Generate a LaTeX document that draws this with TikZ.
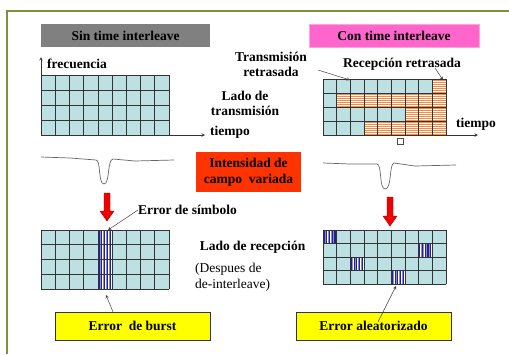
\documentclass[tikz,border=0pt]{standalone}
\usepackage{fontspec}
\setmainfont{Liberation Serif}
\usetikzlibrary{positioning}

\definecolor{marco}{HTML}{77933C}
\definecolor{celda}{HTML}{BDE1E3}
\definecolor{naranja}{HTML}{F98A3E}
\definecolor{azul}{HTML}{22228A}
\definecolor{lila}{HTML}{8C8CD8}
\definecolor{rosa}{HTML}{FF66CC}
\definecolor{rojo}{HTML}{FF3300}
\definecolor{amarillo}{HTML}{FFFF00}

\tikzset{
  txt/.style={font=\fontsize{13.5}{15.5}\selectfont\bfseries, align=center, inner sep=0pt},
  normal/.style={font=\fontsize{13.5}{16}\selectfont, align=left, inner sep=0pt},
  caja/.style={txt, minimum height=23pt},
  flecha/.style={->, >=stealth, black!75, line width=0.5pt},
  eje/.style={->, >=stealth, black!80, line width=0.6pt},
  linea/.style={black!80, line width=0.7pt},
  senal/.style={black!60, line width=0.7pt},
  bajada/.style={fill=red!95!black, draw=red!60!black, line width=0.4pt},
}

% cuadricula de 9x4 celdas
\newcommand{\lineas}{%
  \foreach \i in {0,...,9} {\draw[linea] (\i,0) -- (\i,4);}
  \foreach \j in {0,...,4} {\draw[linea] (0,\j) -- (9,\j);}
}
\newcommand{\rayado}[2]{%
  \fill[white] (#1,#2) rectangle ++(1,1);
  \foreach \k in {0.08,0.28,0.48,0.68,0.88} {\draw[azul, line width=1.1pt] (#1+\k,#2) -- ++(0,1);}
  \foreach \k in {0.18,0.38,0.58,0.78} {\draw[lila, line width=0.8pt] (#1+\k,#2) -- ++(0,1);}
}

\begin{document}
\begin{tikzpicture}[x=1pt,y=-1pt]
  \useasboundingbox (0,0) rectangle (509,354);
  \draw[marco, line width=2pt] (7,354) -- (7,11) -- (509,11);

  % titulos
  \node[caja, fill=black!50, minimum width=169pt] (sin) at (125.5,35.5) {Sin time interleave};
  \node[caja, fill=rosa, draw=rosa!60, minimum width=170pt] (con) at (394,35.5) {Con time interleave};

  % lado de transmision, sin interleave
  \begin{scope}[shift={(41,75)}, x=14.22pt, y=-15pt]
    \fill[celda] (0,0) rectangle (9,4);
    \lineas
  \end{scope}
  \coordinate (o1) at (41,135);
  \coordinate (f1) at (41,57);
  \coordinate (t1) at (205,135);
  \draw[eje] (o1) -- (f1);
  \draw[eje] (o1) -- (t1);
  \node[txt] (frec) at (77,64) {frecuencia};
  \node[txt] (tiem1) at (230,132) {tiempo};

  % lado de transmision, con interleave
  \begin{scope}[shift={(323,79)}, x=13.67pt, y=-14pt]
    \fill[celda] (0,0) rectangle (9,4);
    \foreach \j/\a in {0/8,1/1,2/6,3/3} {
      \foreach \i in {\a,...,8} {
        \fill[naranja] (\i,\j) rectangle ++(1,1);
        \foreach \k in {1,...,6} {\draw[white, line width=0.6pt] (\i,\j+\k/7) -- ++(1,0);}
      }
    }
    \lineas
  \end{scope}
  \coordinate (o2) at (323,135);
  \coordinate (t2) at (478,135);
  \draw[eje] (o2) -- (t2);
  \node[txt] (tiem2) at (476,124) {tiempo};
  \draw[black!70, fill=white, line width=0.5pt] (397,138) rectangle (403,144);

  \node[txt] (trans) at (271,64.5) {Transmisión\\retrasada};
  \node[txt] (ladotx) at (245,103.5) {Lado de\\transmisión};
  \node[txt] (recep) at (402,64) {Recepción retrasada};
  \coordinate (r1) at (318,70);
  \coordinate (r2) at (350,80);
  \coordinate (r3) at (435,68);
  \coordinate (r4) at (443,80);
  \draw[flecha] (r1) -- (r2);
  \draw[flecha] (r3) -- (r4);

  % intensidad de campo
  \draw[senal] (41,157) -- (70,158) -- (96,160)
    .. controls (101,160) and (98,184) .. (104,184)
    .. controls (110,184) and (107,160) .. (113,159) -- (135,161) -- (174,160);
  \draw[senal] (323,163) -- (350,164) -- (377,164)
    .. controls (382,164) and (379,189) .. (385,189)
    .. controls (392,189) and (389,164) .. (394,163) -- (415,166) -- (456,165);
  \node[txt, fill=rojo, minimum width=105pt, minimum height=40pt] (inten) at (248.5,172) {Intensidad de\\campo~ variada};

  \draw[bajada] (104,193) -- (110,193) -- (110,211) -- (114,211) -- (107,221) -- (100,211) -- (104,211) -- cycle;
  \draw[bajada] (387,197) -- (393,197) -- (393,216) -- (397,216) -- (390,226) -- (383,216) -- (387,216) -- cycle;

  % lado de recepcion
  \begin{scope}[shift={(41,230)}, x=14.22pt, y=-14.75pt]
    \fill[celda] (0,0) rectangle (9,4);
    \foreach \j in {0,...,3} {\rayado{4}{\j}}
    \lineas
  \end{scope}
  \begin{scope}[shift={(323,230)}, x=13.67pt, y=-13.5pt]
    \fill[celda] (0,0) rectangle (9,4);
    \foreach \i/\j in {0/0,7/1,2/2,5/3} {\rayado{\i}{\j}}
    \lineas
  \end{scope}

  \node[txt] (simb) at (187.5,210) {Error de símbolo};
  \coordinate (s1) at (108,230);
  \draw[flecha] (simb.west) -- (s1);
  \node[txt] (ladorx) at (252.5,247) {Lado de recepción};
  \node[normal, anchor=west] (desp) at (195,277) {(Despues de\\de-interleave)};

  % errores
  \node[caja, fill=amarillo, draw=black!80, minimum width=155pt, minimum height=28pt] (burst) at (132.5,326) {Error~ de burst};
  \node[caja, fill=amarillo, draw=black!80, minimum width=155pt, minimum height=28pt] (aleat) at (373.5,326) {Error aleatorizado};
  \coordinate (b1) at (106,295);
  \coordinate (a1) at (378,322);
  \coordinate (a2) at (396,286);
  \draw[flecha] ([xshift=-19.5pt]burst.north) -- (b1);
  \draw[flecha] (a1) -- (a2);
\end{tikzpicture}
\end{document}
